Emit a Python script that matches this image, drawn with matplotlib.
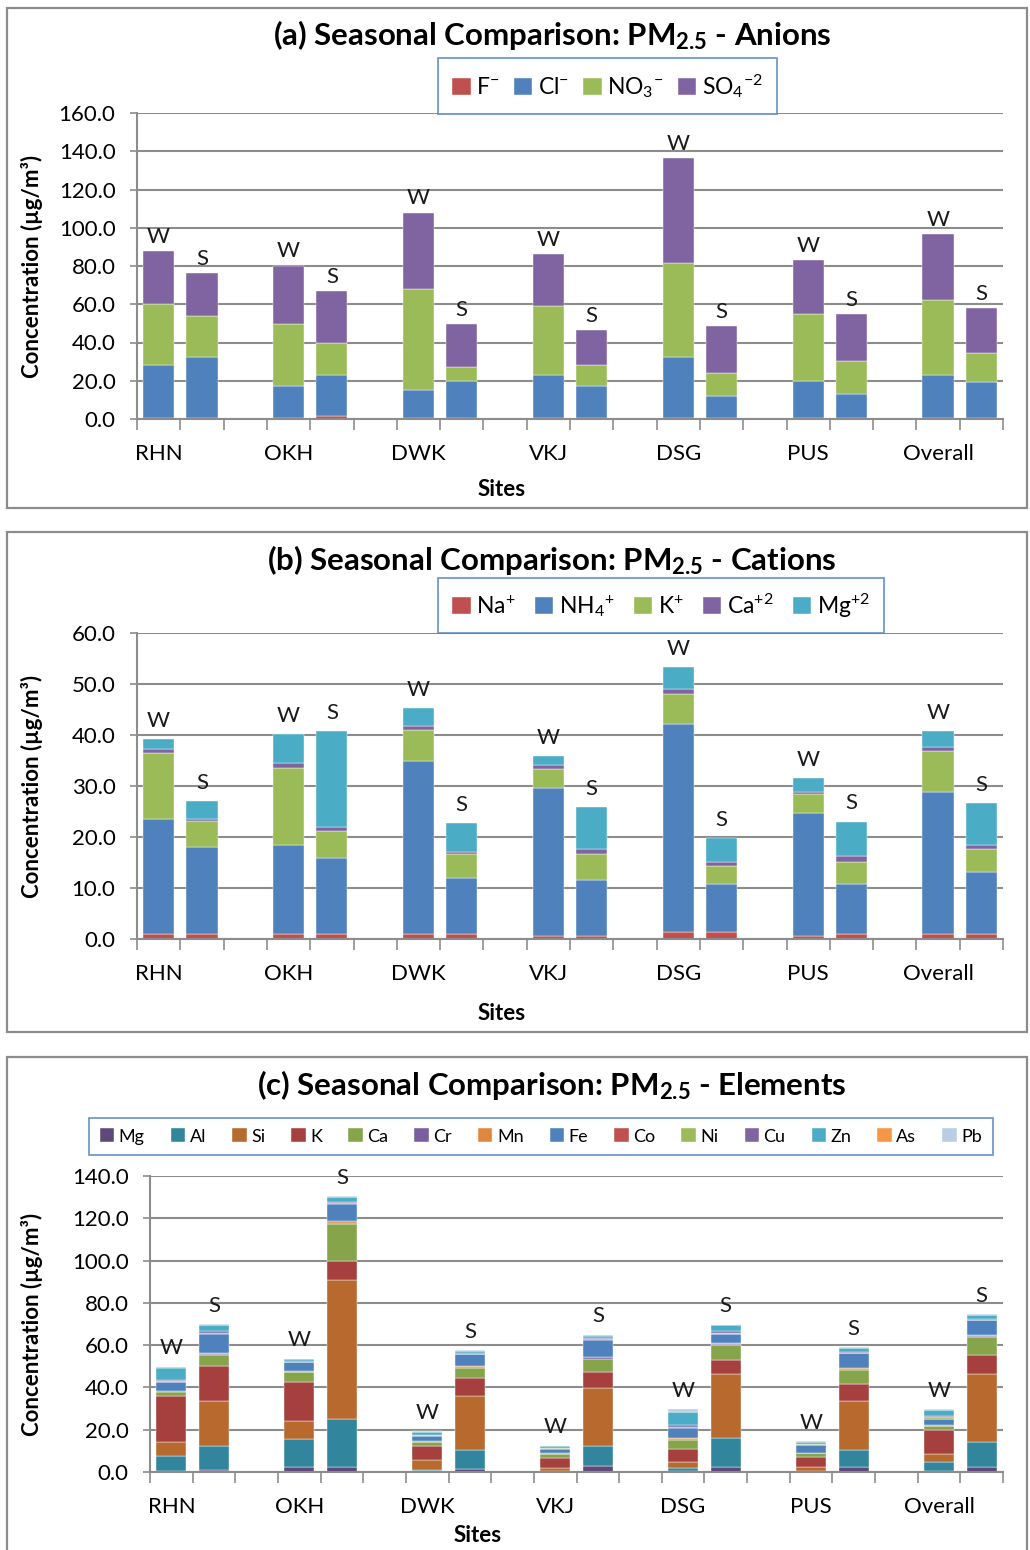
import numpy as np
import matplotlib
matplotlib.use('Agg')
import matplotlib.pyplot as plt
from matplotlib.patches import Rectangle

plt.rcParams['font.family'] = ['Lato', 'DejaVu Sans']
plt.rcParams['mathtext.fontset'] = 'custom'
plt.rcParams['mathtext.rm'] = 'Lato'
plt.rcParams['mathtext.bf'] = 'Lato:bold'
plt.rcParams['mathtext.it'] = 'Lato:italic'

W, H = 1030, 1550

sites = ['RHN', 'OKH', 'DWK', 'VKJ', 'DSG', 'PUS', 'Overall']
seasons = ['W', 'S']

# bar order: RHN W, RHN S, OKH W, OKH S, ... Overall W, Overall S
# (a) anions
f_an = [0.3, 0.3, 0.3, 1.5, 0.3, 0.3, 0.3, 0.3, 0.3, 0.3, 0.3, 0.3, 0.3, 0.3]
cl_an = [27.9, 32.3, 17.0, 21.7, 14.9, 19.7, 22.9, 17.0, 32.3, 11.7, 19.7, 12.8, 22.9, 18.9]
no3_an = [32.1, 21.3, 32.5, 16.4, 52.9, 7.4, 35.7, 10.9, 48.8, 12.2, 34.9, 17.4, 38.9, 15.1]
so4_an = [27.4, 22.4, 30.4, 27.5, 39.8, 22.3, 27.5, 18.5, 54.9, 24.4, 28.2, 24.2, 34.5, 23.6]

# (b) cations
na_cat = [0.9, 0.9, 0.9, 0.9, 0.9, 0.9, 0.5, 0.6, 1.3, 1.3, 0.5, 0.9, 0.9, 0.9]
nh4_cat = [22.6, 17.2, 17.6, 14.9, 34.1, 11.1, 29.1, 11.0, 40.9, 9.5, 24.2, 9.9, 28.0, 12.2]
k_cat = [13.0, 5.0, 15.0, 5.4, 6.0, 4.6, 3.8, 5.0, 5.8, 3.6, 3.8, 4.3, 7.9, 4.6]
ca_cat = [0.7, 0.4, 1.1, 0.7, 0.8, 0.4, 0.8, 1.1, 1.1, 0.7, 0.4, 1.1, 0.8, 0.8]
mg_cat = [2.0, 3.5, 5.5, 18.8, 3.5, 5.7, 1.6, 8.1, 4.2, 4.7, 2.6, 6.8, 3.1, 8.1]

# (c) elements
mg = [0.5, 1.1, 2.2, 2.2, 0.3, 1.4, 0.2, 3.0, 0.4, 2.2, 0.2, 2.2, 0.5, 2.4]
al = [7.1, 11.2, 13.6, 22.9, 0.8, 9.2, 0.4, 9.2, 1.7, 13.9, 0.3, 8.4, 4.4, 11.8]
si = [6.4, 21.1, 8.3, 65.6, 4.7, 25.5, 1.1, 27.5, 2.7, 30.3, 2.0, 23.0, 3.8, 32.2]
k = [22.1, 16.6, 18.5, 9.1, 6.4, 8.4, 4.9, 7.6, 6.3, 6.4, 4.4, 8.2, 11.0, 9.1]
ca = [1.7, 5.5, 4.6, 17.7, 1.9, 4.9, 1.9, 6.3, 3.9, 7.5, 2.0, 6.3, 1.9, 8.4]
cr = [0.3, 0.4, 0.3, 0.3, 0.3, 0.3, 0.2, 0.7, 0.8, 0.3, 0.2, 0.8, 0.3, 0.4]
mn = [0.2, 0.3, 0.2, 1.0, 0.2, 0.5, 0.1, 0.3, 0.2, 0.3, 0.1, 0.3, 0.2, 0.4]
fe = [4.3, 9.3, 4.2, 8.1, 2.3, 5.5, 2.2, 8.0, 5.0, 4.4, 3.6, 7.0, 3.1, 7.0]
co = [0.1, 0.1, 0.1, 0.1, 0.1, 0.1, 0.1, 0.1, 0.1, 0.1, 0.1, 0.1, 0.1, 0.1]
ni = [0.3, 0.2, 0.2, 0.2, 0.3, 0.2, 0.2, 0.2, 0.3, 0.2, 0.2, 0.2, 0.6, 0.3]
cu = [0.6, 0.8, 0.3, 0.3, 0.3, 0.3, 0.2, 0.6, 0.8, 1.1, 0.2, 0.4, 0.5, 0.5]
zn = [5.8, 2.9, 0.8, 2.5, 1.4, 0.9, 0.6, 1.0, 6.3, 2.6, 0.9, 1.6, 2.8, 1.5]
as_el = [0.1, 0.1, 0.1, 0.1, 0.1, 0.1, 0.1, 0.1, 0.1, 0.1, 0.1, 0.1, 0.1, 0.1]
pb = [0.3, 0.4, 0.2, 0.3, 0.3, 0.3, 0.2, 0.3, 1.2, 0.3, 0.3, 0.3, 0.5, 0.4]

GRID = '#8c8c8c'


def fbox(x0, y0, x1, y1):
    return [x0 / W, 1 - y1 / H, (x1 - x0) / W, (y1 - y0) / H]


def frame(y0, y1):
    fig.patches.append(Rectangle((7 / W, 1 - y1 / H), 1020 / W, (y1 - y0) / H,
                                 transform=fig.transFigure, fill=False,
                                 edgecolor='#8c8c8c', lw=1.6))


def panel(ax, series, colors, labels, ymax, ystep, lab_pad, leg_box, leg_fs, leg_ncol,
          title, title_y, width, sites_xy):
    n = len(series[0])
    xs = np.array([3 * (i // 2) + i % 2 for i in range(n)])
    bottom = np.zeros(n)
    handles = []
    for vals, c, lab in zip(series, colors, labels):
        b = ax.bar(xs, vals, width, bottom=bottom, color=c, label=lab,
                   edgecolor='white', linewidth=0.3)
        handles.append(b)
        bottom += np.array(vals)
    for i in range(n):
        ax.annotate(seasons[i % 2], (xs[i], bottom[i]), xytext=(0, lab_pad),
                    textcoords='offset points', ha='center', va='bottom', fontsize=16,
                    color='#1a1a1a')
    ax.set_xlim(-0.5, 19.5)
    ax.set_ylim(0, ymax)
    ax.set_yticks(np.arange(0, ymax + 0.01, ystep))
    ax.set_yticklabels(['%.1f' % v for v in np.arange(0, ymax + 0.01, ystep)], fontsize=16)
    ax.set_xticks(np.arange(-0.5, 20, 1))
    ax.set_xticklabels([])
    ax.set_xticks(xs[::2], minor=True)
    ax.set_xticklabels(sites, minor=True, fontsize=16)
    ax.tick_params(axis='x', which='major', length=8, color=GRID, width=1.2)
    ax.tick_params(axis='x', which='minor', length=0, pad=18)
    ax.tick_params(axis='y', length=5, color=GRID, width=1.2, pad=10.5)
    ax.grid(axis='y', color=GRID, lw=1.5)
    ax.set_axisbelow(True)
    for s in ['top', 'right']:
        ax.spines[s].set_visible(False)
    for s in ['left', 'bottom']:
        ax.spines[s].set_color(GRID)
        ax.spines[s].set_linewidth(1.5)
    ax.set_ylabel('Concentration (µg/m³)', fontsize=16, fontweight='bold')
    fig.text(sites_xy[0] / W, 1 - sites_xy[1] / H, 'Sites', ha='center', va='center',
             fontsize=16, fontweight='bold')
    leg = fig.legend(handles=handles, loc='center', ncol=leg_ncol, fontsize=leg_fs,
                     bbox_to_anchor=fbox(*leg_box), mode='expand', frameon=True,
                     fancybox=False, handlelength=0.8, handleheight=0.8,
                     handletextpad=0.25, columnspacing=0.6, borderpad=0.6)
    leg.get_frame().set_edgecolor('#4f81bd')
    leg.get_frame().set_linewidth(1.3)
    fig.text(552 / W, 1 - title_y / H, title, ha='center', va='center',
             fontsize=22.5, fontweight='bold')


fig = plt.figure(figsize=(W / 100, H / 100), dpi=100)

frame(8, 508)
frame(532, 1032)
frame(1057, 1560)

# (a)
ax1 = fig.add_axes(fbox(137, 113, 1003, 419))
panel(ax1, [f_an, cl_an, no3_an, so4_an],
      ['#c0504d', '#4f81bd', '#9bbb59', '#8064a2'],
      ['F$^{-}$', 'Cl$^{-}$', 'NO$_3$$^{-}$', 'SO$_4$$^{-2}$'],
      160, 20, 3, (427, 61, 788, 111), 16.5, 4,
      r'(a) Seasonal Comparison: PM$_\mathbf{2.5}$ - Anions', 35, 0.72, (502, 489))
ax1.yaxis.set_label_coords(-0.108, 0.5)

# (b)
ax2 = fig.add_axes(fbox(137, 633, 1003, 939))
panel(ax2, [na_cat, nh4_cat, k_cat, ca_cat, mg_cat],
      ['#c0504d', '#4f81bd', '#9bbb59', '#8064a2', '#4bacc6'],
      ['Na$^{+}$', 'NH$_4$$^{+}$', 'K$^{+}$', 'Ca$^{+2}$', 'Mg$^{+2}$'],
      60, 10, 6, (427, 580, 895, 631), 16.5, 5,
      r'(b) Seasonal Comparison: PM$_\mathbf{2.5}$ - Cations', 560, 0.72, (502, 1014))
ax2.yaxis.set_label_coords(-0.108, 0.5)

# (c)
ax3 = fig.add_axes(fbox(150, 1176, 1003, 1472))
panel(ax3, [mg, al, si, k, ca, cr, mn, fe, co, ni, cu, zn, as_el, pb],
      ['#5f497a', '#31859c', '#b8692e', '#a5403e', '#86a54a', '#7a5ea0', '#e0873d',
       '#4f81bd', '#c0504d', '#9bbb59', '#8064a2', '#4bacc6', '#f79646', '#b9cde5'],
      ['Mg', 'Al', 'Si', 'K', 'Ca', 'Cr', 'Mn', 'Fe', 'Co', 'Ni', 'Cu', 'Zn', 'As', 'Pb'],
      140, 20, 6, (80, 1110, 1002, 1163), 13, 14,
      r'(c) Seasonal Comparison: PM$_\mathbf{2.5}$ - Elements', 1085, 0.7, (478, 1535))
ax3.yaxis.set_label_coords(-0.125, 0.5)

fig.savefig('out.png', dpi=100)
